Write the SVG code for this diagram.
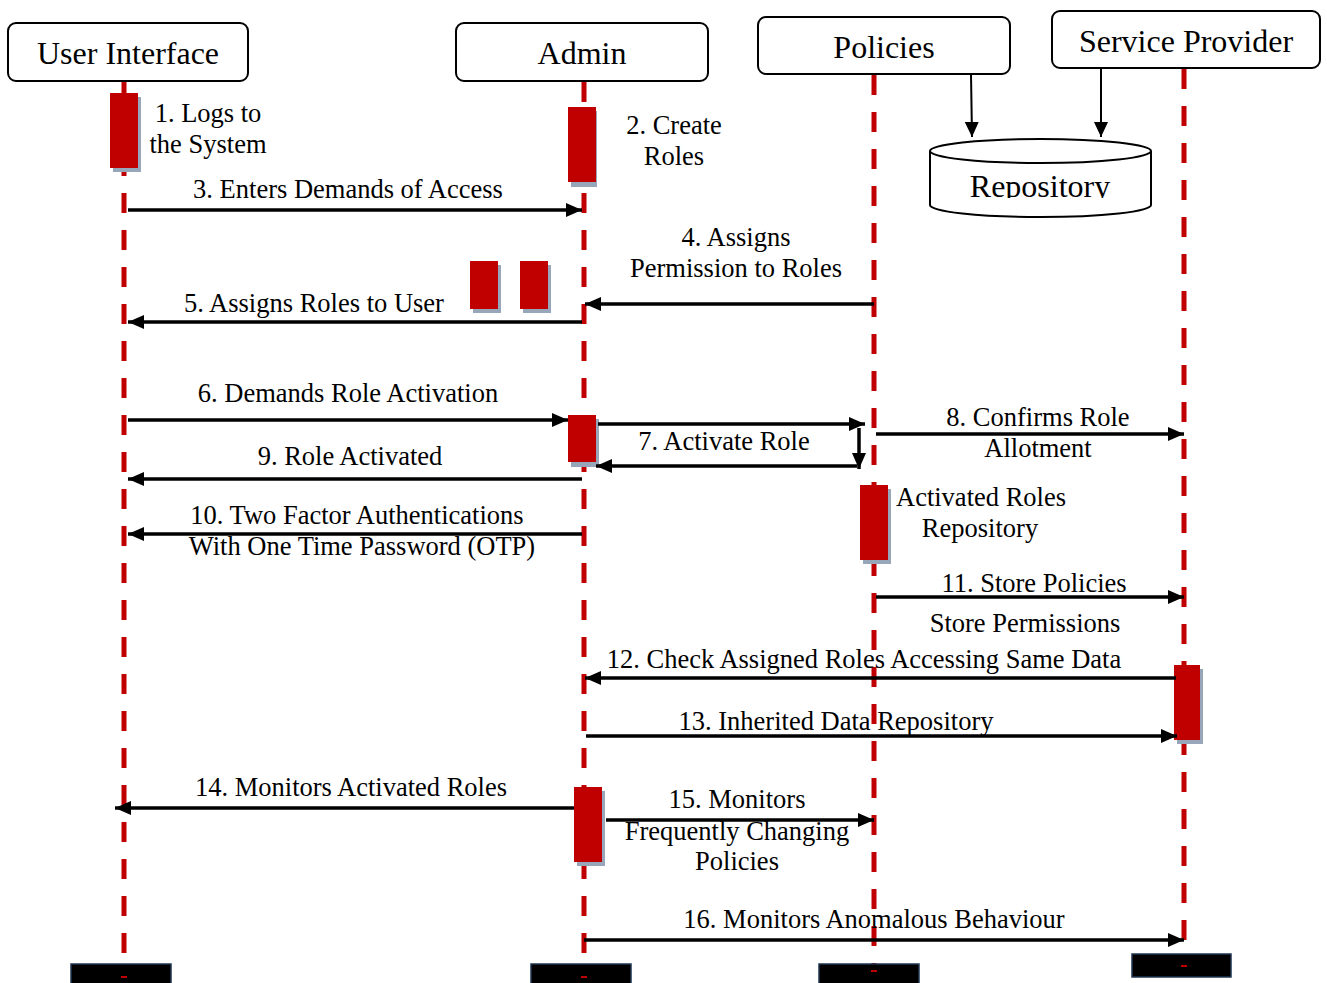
<svg xmlns="http://www.w3.org/2000/svg" width="1327" height="983" viewBox="0 0 1327 983">
<style>
.box{fill:#fff;stroke:#000;stroke-width:2}
.title{font-family:"Liberation Serif",serif;font-size:32px;fill:#000;text-anchor:middle}
.lbl{font-family:"Liberation Serif",serif;font-size:26.5px;fill:#000;text-anchor:middle}
.life{stroke:#c00000;stroke-width:5;stroke-dasharray:20 17;fill:none}
.act{fill:#c00000}
.shadow{fill:#98a6ba}
.msg{stroke:#000;stroke-width:3.5;fill:none;marker-end:url(#ah)}
.thin{stroke:#000;stroke-width:2;fill:none;marker-end:url(#ah2)}
.end{fill:#000;stroke:#1f3550;stroke-width:1.5}
.endmark{stroke:#c00000;stroke-width:2}
</style>
<defs>
<marker id="ah" markerUnits="userSpaceOnUse" markerWidth="18" markerHeight="16" refX="16" refY="8" orient="auto">
<path d="M0,1 L16,8 L0,15 z" fill="#000"/>
</marker>
<marker id="ah2" markerUnits="userSpaceOnUse" markerWidth="16" markerHeight="16" refX="15" refY="8" orient="auto">
<path d="M0,1 L15,8 L0,15 z" fill="#000"/>
</marker>
<clipPath id="repclip"><rect x="930" y="160" width="222" height="38"/></clipPath>
</defs>
<rect width="1327" height="983" fill="#fff"/>

<g id="lifelines">
<line class="life" x1="124" y1="82" x2="124" y2="975"/>
<line class="life" x1="584" y1="82" x2="584" y2="975"/>
<line class="life" x1="874" y1="75" x2="874" y2="975"/>
<line class="life" x1="1184" y1="69" x2="1184" y2="955"/>
</g>

<g id="node-user-interface">
<rect class="box" x="8" y="23" width="240" height="58" rx="8"/>
<text class="title" x="128" y="64">User Interface</text>
</g>
<g id="node-admin">
<rect class="box" x="456" y="23" width="252" height="58" rx="8"/>
<text class="title" x="582" y="64">Admin</text>
</g>
<g id="node-policies">
<rect class="box" x="758" y="17" width="252" height="57" rx="8"/>
<text class="title" x="884" y="58">Policies</text>
</g>
<g id="node-service-provider">
<rect class="box" x="1052" y="11" width="268" height="57" rx="8"/>
<text class="title" x="1186" y="52">Service Provider</text>
</g>
<g id="node-repository">
<path class="box" d="M930,151 L930,205 A110.5,12 0 0 0 1151,205 L1151,151"/>
<ellipse class="box" cx="1040.5" cy="151" rx="110.5" ry="12"/>
<text class="title" x="1040" y="197" clip-path="url(#repclip)">Repository</text>
</g>

<g id="activations">
<rect class="shadow" x="113" y="97" width="28" height="75"/>
<rect class="act" x="110" y="93" width="28" height="75"/>
<rect class="shadow" x="571" y="111" width="26" height="76"/>
<rect class="act" x="568" y="107" width="28" height="75"/>
<rect class="shadow" x="473" y="265" width="28" height="48"/>
<rect class="act" x="470" y="261" width="28" height="48"/>
<rect class="shadow" x="523" y="265" width="28" height="48"/>
<rect class="act" x="520" y="261" width="28" height="48"/>
<rect class="shadow" x="571" y="419" width="28" height="48"/>
<rect class="act" x="568" y="415" width="28" height="47"/>
<rect class="shadow" x="863" y="489" width="28" height="75"/>
<rect class="act" x="860" y="485" width="28" height="75"/>
<rect class="shadow" x="1177" y="669" width="26" height="75"/>
<rect class="act" x="1174" y="665" width="26" height="75"/>
<rect class="shadow" x="577" y="791" width="28" height="75"/>
<rect class="act" x="574" y="787" width="28" height="75"/>
</g>

<g id="end-markers">
<rect class="end" x="71" y="964" width="100" height="20"/>
<line class="endmark" x1="121" y1="977" x2="127" y2="977"/>
<rect class="end" x="531" y="964" width="100" height="20"/>
<line class="endmark" x1="581" y1="977" x2="587" y2="977"/>
<rect class="end" x="819" y="964" width="100" height="20"/>
<line class="endmark" x1="871" y1="971" x2="877" y2="971"/>
<rect class="end" x="1132" y="954" width="99" height="23"/>
<line class="endmark" x1="1181" y1="966" x2="1187" y2="966"/>
</g>

<g id="connectors">
<line class="thin" x1="971" y1="74" x2="972" y2="137"/>
<line class="thin" x1="1101" y1="68" x2="1101" y2="137"/>
<line class="msg" x1="128" y1="210" x2="582" y2="210"/>
<line class="msg" x1="874" y1="304" x2="585" y2="304"/>
<line class="msg" x1="582" y1="322" x2="128" y2="322"/>
<line class="msg" x1="128" y1="420" x2="568" y2="420"/>
<line class="msg" x1="598" y1="424" x2="865" y2="424"/>
<line class="msg" x1="859" y1="428" x2="859" y2="469"/>
<line class="msg" x1="857" y1="466" x2="596" y2="466"/>
<line class="msg" x1="876" y1="434" x2="1184" y2="434"/>
<line class="msg" x1="582" y1="479" x2="128" y2="479"/>
<line class="msg" x1="582" y1="534" x2="128" y2="534"/>
<line class="msg" x1="876" y1="597" x2="1184" y2="597"/>
<line class="msg" x1="1176" y1="678" x2="585" y2="678"/>
<line class="msg" x1="586" y1="736" x2="1177" y2="736"/>
<line class="msg" x1="574" y1="808" x2="115" y2="808"/>
<line class="msg" x1="606" y1="820" x2="874" y2="820"/>
<line class="msg" x1="584" y1="940" x2="1184" y2="940"/>
</g>

<g id="labels">
<text class="lbl" x="208" y="122">1. Logs to</text>
<text class="lbl" x="208" y="153">the System</text>
<text class="lbl" x="674" y="134">2. Create</text>
<text class="lbl" x="674" y="165">Roles</text>
<text class="lbl" x="348" y="198">3. Enters Demands of Access</text>
<text class="lbl" x="736" y="246">4. Assigns</text>
<text class="lbl" x="736" y="277">Permission to Roles</text>
<text class="lbl" x="314" y="312">5. Assigns Roles to User</text>
<text class="lbl" x="348" y="402">6. Demands Role Activation</text>
<text class="lbl" x="724" y="450">7. Activate Role</text>
<text class="lbl" x="1038" y="426">8. Confirms Role</text>
<text class="lbl" x="1038" y="457">Allotment</text>
<text class="lbl" x="350" y="465">9. Role Activated</text>
<text class="lbl" x="357" y="524">10. Two Factor Authentications</text>
<text class="lbl" x="362" y="555">With One Time Password (OTP)</text>
<text class="lbl" x="981" y="506">Activated Roles</text>
<text class="lbl" x="980" y="537">Repository</text>
<text class="lbl" x="1034" y="592">11. Store Policies</text>
<text class="lbl" x="1025" y="632">Store Permissions</text>
<text class="lbl" x="864" y="668">12. Check Assigned Roles Accessing Same Data</text>
<text class="lbl" x="836" y="730">13. Inherited Data Repository</text>
<text class="lbl" x="351" y="796">14. Monitors Activated Roles</text>
<text class="lbl" x="737" y="808">15. Monitors</text>
<text class="lbl" x="737" y="840">Frequently Changing</text>
<text class="lbl" x="737" y="870">Policies</text>
<text class="lbl" x="874" y="928">16. Monitors Anomalous Behaviour</text>
</g>
</svg>
